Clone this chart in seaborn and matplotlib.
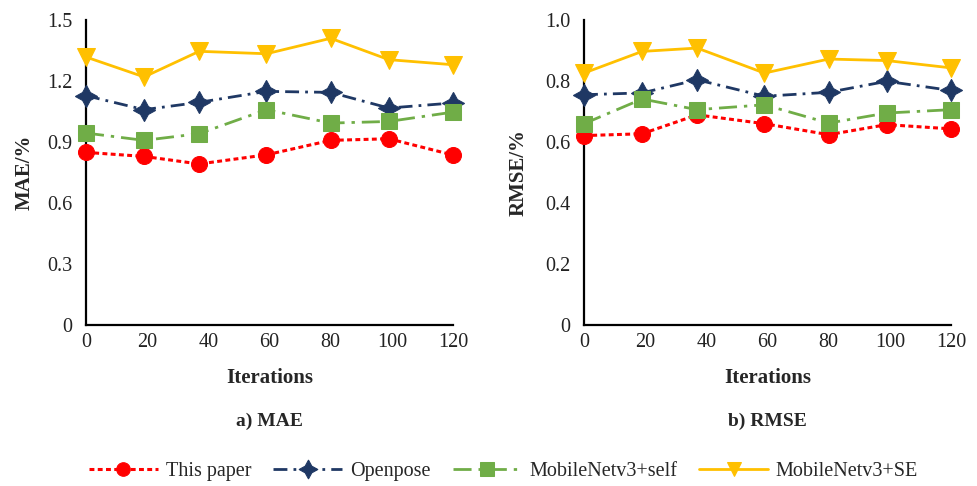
import matplotlib
matplotlib.use('Agg')
import matplotlib.pyplot as plt
import numpy as np
import pandas as pd
import seaborn as sns

# data
iterations = [0, 19, 37, 59, 80, 99, 120]

mae_this_paper = [0.849, 0.829, 0.792, 0.837, 0.908, 0.916, 0.836]
mae_openpose = [1.128, 1.059, 1.095, 1.149, 1.144, 1.067, 1.092]
mae_mobile_self = [0.944, 0.908, 0.941, 1.059, 0.993, 1.001, 1.047]
mae_mobile_se = [1.318, 1.220, 1.346, 1.334, 1.410, 1.305, 1.280]

rmse_this_paper = [0.621, 0.627, 0.689, 0.660, 0.624, 0.657, 0.643]
rmse_openpose = [0.755, 0.761, 0.804, 0.750, 0.763, 0.799, 0.769]
rmse_mobile_self = [0.660, 0.741, 0.706, 0.722, 0.662, 0.695, 0.706]
rmse_mobile_se = [0.826, 0.897, 0.908, 0.826, 0.872, 0.867, 0.843]

names = ['This paper', 'Openpose', 'MobileNetv3+self', 'MobileNetv3+SE']

mae_yticks = [0, 0.3, 0.6, 0.9, 1.2, 1.5]
mae_ylabels = ['0', '0.3', '0.6', '0.9', '1.2', '1.5']
rmse_yticks = [0, 0.2, 0.4, 0.6, 0.8, 1.0]
rmse_ylabels = ['0', '0.2', '0.4', '0.6', '0.8', '1.0']
xticks = [0, 20, 40, 60, 80, 100, 120]

styles = {
    'This paper': dict(color='#FF0000', marker='o', ms=11.5, lw=2.2, ls=(0, (1.6, 1.1))),
    'Openpose': dict(color='#1F3864', marker=(4, 1, 0), ms=16, lw=2.0, ls=(0, (5, 2.2, 1, 2.2))),
    'MobileNetv3+self': dict(color='#70AD47', marker='s', ms=11.5, lw=2.0, ls=(0, (6.5, 2.5, 1.2, 2.5))),
    'MobileNetv3+SE': dict(color='#FFC000', marker='v', ms=12.5, lw=2.0, ls='-'),
}


def long_frame(series):
    rows = []
    for name, vals in zip(names, series):
        for x, v in zip(iterations, vals):
            rows.append({'iter': x, 'value': v, 'model': name})
    return pd.DataFrame(rows)


def draw(ax, df, yticks, ylabels, ylabel, ylabel_x):
    for name in names:
        st = styles[name]
        sub = df[df['model'] == name]
        sns.lineplot(data=sub, x='iter', y='value', ax=ax, label=name,
                     color=st['color'], marker=st['marker'], markersize=st['ms'],
                     linewidth=st['lw'], linestyle=st['ls'],
                     markeredgecolor=st['color'], clip_on=False, zorder=3)
    ax.set_xlim(0, 120)
    ax.set_ylim(yticks[0], yticks[-1])
    ax.set_xticks(xticks)
    ax.set_xticklabels([str(t) for t in xticks])
    ax.set_yticks(yticks)
    ax.set_yticklabels(ylabels)
    for s in ['top', 'right']:
        ax.spines[s].set_visible(False)
    for s in ['left', 'bottom']:
        ax.spines[s].set_color('black')
        ax.spines[s].set_linewidth(1.6)
    ax.tick_params(direction='in', length=7, width=1.6, labelsize=14.5,
                   colors='black', labelcolor='#222222')
    ax.tick_params(axis='y', pad=10)
    ax.tick_params(axis='x', pad=6)
    ax.set_xlabel('Iterations', fontsize=15, fontweight='bold')
    ax.xaxis.set_label_coords(0.5, -0.14)
    ax.set_ylabel(ylabel, fontsize=15, fontweight='bold')
    ax.yaxis.set_label_coords(ylabel_x, 0.5)
    ax.grid(False)
    ax.get_legend().remove()


sns.set_theme(style='white')
plt.rcParams['font.family'] = ['Liberation Serif', 'DejaVu Serif']

fig = plt.figure(figsize=(9.78, 4.86), dpi=100)
ax1 = fig.add_axes([86 / 978, 1 - 325 / 486, 367 / 978, 305 / 486])
ax2 = fig.add_axes([584 / 978, 1 - 325 / 486, 367 / 978, 305 / 486])

draw(ax1, long_frame([mae_this_paper, mae_openpose, mae_mobile_self, mae_mobile_se]),
     mae_yticks, mae_ylabels, 'MAE/%', -0.14)
draw(ax2, long_frame([rmse_this_paper, rmse_openpose, rmse_mobile_self, rmse_mobile_se]),
     rmse_yticks, rmse_ylabels, 'RMSE/%', -0.15)

fig.text(269.5 / 978, 1 - 421 / 486, 'a) MAE', ha='center', va='center',
         fontsize=14, fontweight='bold')
fig.text(767.5 / 978, 1 - 421 / 486, 'b) RMSE', ha='center', va='center',
         fontsize=14, fontweight='bold')

handles, labels = ax1.get_legend_handles_labels()
fig.legend(handles, labels, loc='center', bbox_to_anchor=(0.515, 1 - 471 / 486),
           ncol=4, frameon=False, fontsize=14.5, handlelength=3.4,
           handletextpad=0.4, columnspacing=1.1, markerscale=0.85)

fig.savefig('out.png', dpi=100, facecolor='white')
